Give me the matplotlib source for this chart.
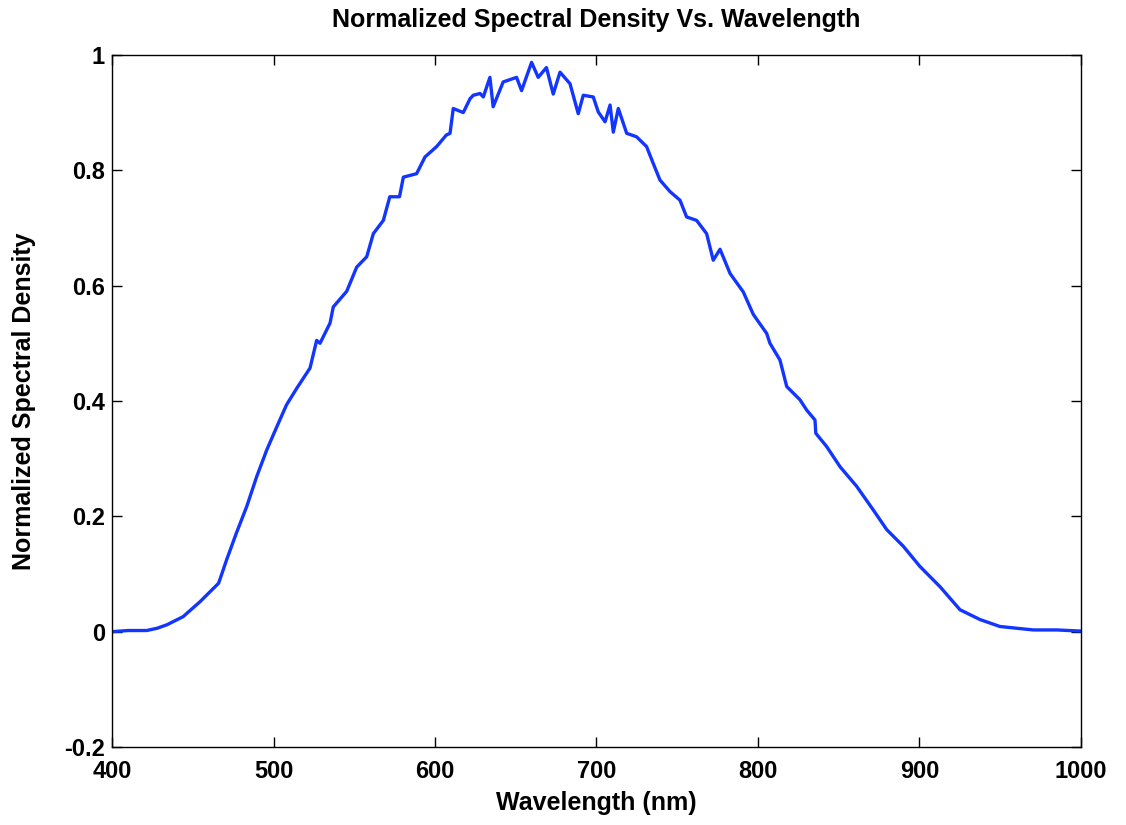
import matplotlib
matplotlib.use('Agg')
import matplotlib.pyplot as plt
import numpy as np

# values
wavelength = [400, 410, 421.5, 428, 434, 444, 454.5, 466, 471, 477, 483.4,
              489.6, 495.8, 502, 508, 514.4, 522.6, 526.7, 528.8, 535, 537,
              545.3, 551.5, 557.7, 561.8, 568, 572, 578, 580.4, 588.6, 593.8,
              601, 607, 609.3, 611.3, 617.5, 621.7, 623.7, 627.9, 629.9, 634,
              636, 642.2, 650.5, 653.6, 659.8, 663.9, 669, 673.2, 677.4,
              683.6, 688.7, 691.8, 698, 701.1, 705.3, 708.4, 710.4, 713.5,
              718.7, 724.8, 731, 735.1, 739.3, 745.5, 751.7, 755.8, 762,
              768.2, 772.3, 776.5, 782.7, 790.9, 797.1, 805.4, 807.4, 813.6,
              817.8, 826, 830.2, 835.3, 835.8, 842.5, 850.8, 861.1, 871.4,
              879.7, 890, 900.3, 912.7, 925.1, 937.5, 949.8, 960, 970.5, 985,
              1000]
density = [0.0, 0.002, 0.002, 0.006, 0.012, 0.026, 0.052, 0.084, 0.125,
           0.171, 0.217, 0.269, 0.315, 0.355, 0.393, 0.422, 0.457, 0.505,
           0.5, 0.535, 0.563, 0.59, 0.632, 0.65, 0.69, 0.713, 0.754, 0.754,
           0.788, 0.794, 0.823, 0.841, 0.861, 0.864, 0.907, 0.9, 0.924, 0.93,
           0.933, 0.927, 0.961, 0.91, 0.953, 0.961, 0.938, 0.987, 0.961,
           0.978, 0.932, 0.97, 0.95, 0.898, 0.93, 0.927, 0.901, 0.884, 0.913,
           0.866, 0.907, 0.864, 0.858, 0.841, 0.812, 0.783, 0.763, 0.748,
           0.719, 0.713, 0.69, 0.644, 0.663, 0.621, 0.589, 0.55, 0.517, 0.5,
           0.471, 0.425, 0.402, 0.384, 0.367, 0.344, 0.321, 0.286, 0.252,
           0.211, 0.177, 0.148, 0.113, 0.078, 0.038, 0.021, 0.009, 0.006,
           0.003, 0.003, 0.001]

xticks = [400, 500, 600, 700, 800, 900, 1000]
yticks = [-0.2, 0, 0.2, 0.4, 0.6, 0.8, 1]
ytick_labels = ['-0.2', '0', '0.2', '0.4', '0.6', '0.8', '1']

plt.rcParams['font.family'] = ['Liberation Sans', 'DejaVu Sans']
plt.rcParams['font.weight'] = 'bold'

fig = plt.figure(figsize=(11.26, 8.25), dpi=100)
ax = fig.add_axes([0.0995, 0.0945, 0.8605, 0.839])

ax.plot(wavelength, density, color='#1235ff', linewidth=2.4)

ax.set_xlim(400, 1000)
ax.set_ylim(-0.2, 1)
ax.set_xticks(xticks)
ax.set_yticks(yticks)
ax.set_yticklabels(ytick_labels)
ax.tick_params(direction='in', length=7, width=1, top=True, right=True,
               labelsize=17)
ax.tick_params(axis='x', pad=9)
ax.tick_params(axis='y', pad=5)
for lab in ax.get_xticklabels() + ax.get_yticklabels():
    lab.set_fontweight('bold')
for s in ax.spines.values():
    s.set_linewidth(1)

ax.set_title('Normalized Spectral Density Vs. Wavelength', fontsize=18,
             fontweight='bold', pad=20)
ax.set_xlabel('Wavelength (nm)', fontsize=18, fontweight='bold', labelpad=6)
ax.set_ylabel('Normalized Spectral Density', fontsize=18, fontweight='bold',
              labelpad=20)

fig.savefig('out.png', dpi=100)
